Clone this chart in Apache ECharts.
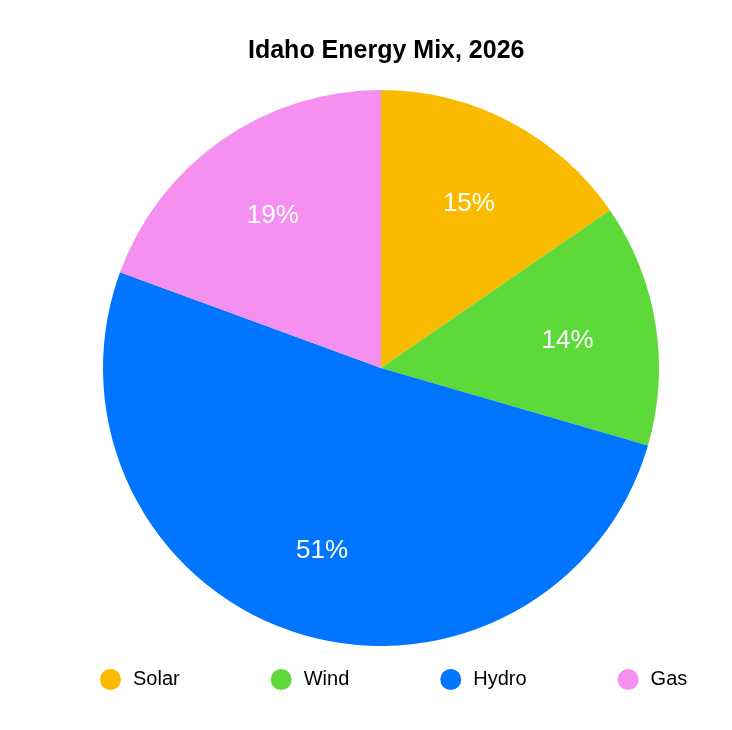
<!DOCTYPE html>
<html>
<head>
<meta charset="utf-8">
<script src="https://cdn.jsdelivr.net/npm/echarts@6/dist/echarts.min.js"></script>
<style>
  html, body { margin: 0; padding: 0; background: #fff; }
  #chart { width: 732px; height: 730px; }
</style>
</head>
<body>
<div id="chart"></div>
<script>
// === Data ===
const sources = ['Solar', 'Wind', 'Hydro', 'Gas'];
const shares = [15.4, 14.1, 51.1, 19.4];
const colors = ['#F9BA00', '#5ED93A', '#0075FF', '#F590F0'];

const font = '"Liberation Sans", Arial, Helvetica, sans-serif';
const pieData = sources.map((name, i) => ({ name, value: shares[i] }));

const chart = echarts.init(document.getElementById('chart'));
chart.setOption({
    backgroundColor: '#fff',
    animation: false,
    color: colors,
    title: {
        text: 'Idaho Energy Mix, 2026',
        left: 243,
        top: 34,
        textStyle: { fontFamily: font, fontSize: 25, fontWeight: 'bold', color: '#000' }
    },
    legend: {
        data: sources,
        left: 95,
        top: 664,
        icon: 'circle',
        itemWidth: 21,
        itemHeight: 21,
        itemGap: 91,
        textStyle: { fontFamily: font, fontSize: 20, color: '#000', padding: [0, 0, 0, 7] }
    },
    series: [
        {
            // the slices
            type: 'pie',
            center: [381, 368],
            radius: [0, 278],
            startAngle: 90,
            clockwise: true,
            label: { show: false },
            labelLine: { show: false },
            itemStyle: { borderWidth: 0 },
            emphasis: { scale: false },
            data: pieData
        },
        {
            // percent labels, pushed outward by an empty inner ring
            type: 'pie',
            center: [381, 368],
            radius: [94, 278],
            startAngle: 90,
            clockwise: true,
            silent: true,
            itemStyle: { color: 'rgba(0,0,0,0)', borderWidth: 0 },
            label: {
                show: true,
                position: 'inside',
                fontFamily: font,
                fontSize: 26,
                color: '#fff',
                offset: [0, 3],
                formatter: p => Math.round(p.value) + '%'
            },
            labelLine: { show: false },
            emphasis: { disabled: true },
            data: pieData
        }
    ]
});
</script>
</body>
</html>
